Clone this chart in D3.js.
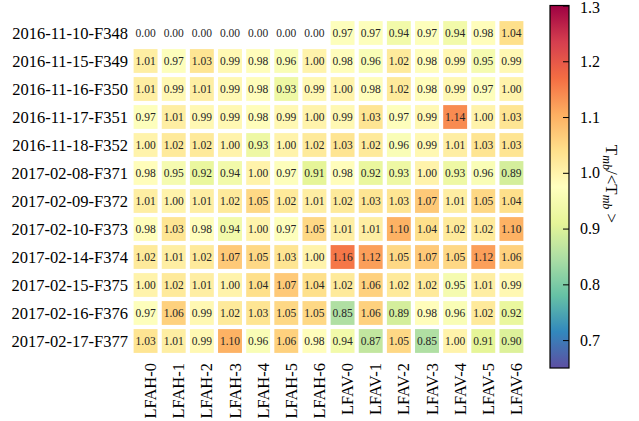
<!DOCTYPE html>
<html>
<head>
<meta charset="utf-8">
<script src="https://cdn.jsdelivr.net/npm/d3@7"></script>
<style>
  html, body { margin: 0; padding: 0; background: #fff; }
  svg { display: block; }
</style>
</head>
<body>
<svg id="chart" width="639" height="421"></svg>
<script>
const rows = ["2016-11-10-F348","2016-11-15-F349","2016-11-16-F350","2016-11-17-F351","2016-11-18-F352",
  "2017-02-08-F371","2017-02-09-F372","2017-02-10-F373","2017-02-14-F374","2017-02-15-F375",
  "2017-02-16-F376","2017-02-17-F377"];
const cols = ["LFAH-0","LFAH-1","LFAH-2","LFAH-3","LFAH-4","LFAH-5","LFAH-6",
  "LFAV-0","LFAV-1","LFAV-2","LFAV-3","LFAV-4","LFAV-5","LFAV-6"];
// 0.00 = masked (no data)
const values = [
  [0.00,0.00,0.00,0.00,0.00,0.00,0.00,0.97,0.97,0.94,0.97,0.94,0.98,1.04],
  [1.01,0.97,1.03,0.99,0.98,0.96,1.00,0.98,0.96,1.02,0.98,0.99,0.95,0.99],
  [1.01,0.99,1.01,0.99,0.98,0.93,0.99,1.00,0.98,1.02,0.98,0.99,0.97,1.00],
  [0.97,1.01,0.99,0.99,0.98,0.99,1.00,0.99,1.03,0.97,0.99,1.14,1.00,1.03],
  [1.00,1.02,1.02,1.00,0.93,1.00,1.02,1.03,1.02,0.96,0.99,1.01,1.03,1.03],
  [0.98,0.95,0.92,0.94,1.00,0.97,0.91,0.98,0.92,0.93,1.00,0.93,0.96,0.89],
  [1.01,1.00,1.01,1.02,1.05,1.02,1.01,1.02,1.03,1.03,1.07,1.01,1.05,1.04],
  [0.98,1.03,0.98,0.94,1.00,0.97,1.05,1.01,1.01,1.10,1.04,1.02,1.02,1.10],
  [1.02,1.01,1.02,1.07,1.05,1.03,1.00,1.16,1.12,1.05,1.07,1.05,1.12,1.06],
  [1.00,1.02,1.01,1.00,1.04,1.07,1.04,1.02,1.06,1.02,1.02,0.95,1.01,0.99],
  [0.97,1.06,0.99,1.02,1.03,1.05,1.05,0.85,1.06,0.89,0.98,0.96,1.02,0.92],
  [1.03,1.01,0.99,1.10,0.96,1.06,0.98,0.94,0.87,1.05,0.85,1.00,0.91,0.90]
];
const cbTicks = [0.7,0.8,0.9,1.0,1.1,1.2,1.3];
const vmin = 0.65, vmax = 1.3;

const spectral = ["#9e0142","#d53e4f","#f46d43","#fdae61","#fee08b","#ffffbf","#e6f598","#abdda4","#66c2a5","#3288bd","#5e4fa2"];
const cmapR = spectral.slice().reverse();
const cmap = d3.scaleLinear()
  .domain(cmapR.map((c,i)=> vmin + (vmax - vmin) * i / (cmapR.length - 1)))
  .range(cmapR).interpolate(d3.interpolateRgb).clamp(true);

const svg = d3.select("#chart");
const font = "'Liberation Serif', 'DejaVu Serif', serif";

const x = d3.scaleBand().domain(cols).range([131.5, 525.5]).paddingInner(0.15).paddingOuter(0.075);
const y = d3.scaleBand().domain(rows).range([19, 355]).paddingInner(0.15).paddingOuter(0.075);

const cells = [];
values.forEach((r,i)=> r.forEach((v,j)=> cells.push({row: rows[i], col: cols[j], v})));

const g = svg.append("g");
g.selectAll("rect.cell").data(cells).join("rect")
  .attr("class","cell")
  .attr("x", d=> x(d.col)).attr("y", d=> y(d.row))
  .attr("width", x.bandwidth()).attr("height", y.bandwidth())
  .attr("fill", d=> d.v === 0 ? "#ffffff" : cmap(d.v));

g.selectAll("text.val").data(cells).join("text")
  .attr("class","val")
  .attr("x", d=> x(d.col) + x.bandwidth()/2)
  .attr("y", d=> y(d.row) + y.bandwidth()/2)
  .attr("text-anchor","middle").attr("dominant-baseline","central")
  .attr("font-family", font).attr("font-size", 11.5).attr("fill","#262626")
  .text(d=> d.v.toFixed(2));

// row labels
svg.append("g").selectAll("text").data(rows).join("text")
  .attr("x", 128).attr("y", d=> y(d) + y.bandwidth()/2)
  .attr("text-anchor","end").attr("dominant-baseline","central")
  .attr("font-family", font).attr("font-size", 16.5).attr("fill","#000")
  .text(d=> d);

// column labels (rotated)
svg.append("g").selectAll("text").data(cols).join("text")
  .attr("transform", d=> `translate(${x(d) + x.bandwidth()/2 + 5},363) rotate(-90)`)
  .attr("text-anchor","end").attr("dominant-baseline","central")
  .attr("font-family", font).attr("font-size", 16.5).attr("fill","#000")
  .text(d=> d);

// colorbar
const cbX = 550, cbW = 19, cbTop = 5.5, cbBot = 368;
const cy = d3.scaleLinear().domain([vmin, vmax]).range([cbBot, cbTop]);
const defs = svg.append("defs");
const grad = defs.append("linearGradient").attr("id","cbgrad")
  .attr("x1","0").attr("y1","1").attr("x2","0").attr("y2","0");
d3.range(0, 1.0001, 0.02).forEach(t=> {
  grad.append("stop").attr("offset", t).attr("stop-color", cmap(vmin + t*(vmax-vmin)));
});
svg.append("rect").attr("x", cbX).attr("y", cbTop).attr("width", cbW).attr("height", cbBot - cbTop)
  .attr("fill","url(#cbgrad)");
svg.append("rect").attr("x", cbX).attr("y", cbTop).attr("width", cbW).attr("height", cbBot - cbTop)
  .attr("fill","none").attr("stroke","#000").attr("stroke-width",1.2);

const cbAxis = d3.axisRight(cy).tickValues(cbTicks).tickFormat(d3.format(".1f")).tickSizeInner(-6).tickSizeOuter(0).tickPadding(11);
const ag = svg.append("g").attr("transform", `translate(${cbX + cbW},0)`).call(cbAxis);
ag.select(".domain").remove();
ag.selectAll(".tick line").attr("stroke","#000").attr("stroke-width",1);
ag.selectAll(".tick text").attr("font-family", font).attr("font-size", 16).attr("fill","#000");
ag.selectAll(".tick").filter(d=> d === 1.3).select("text").attr("dy","0.45em");

// colorbar label
const lab = svg.append("text")
  .attr("transform","translate(606,184) rotate(90)")
  .attr("text-anchor","middle")
  .attr("font-family", font).attr("font-size", 17).attr("fill","#000");
lab.append("tspan").text("T");
lab.append("tspan").attr("font-style","italic").attr("font-size",12).attr("dy",3).text("mb");
lab.append("tspan").attr("dy",-3).text("/<T");
lab.append("tspan").attr("font-style","italic").attr("font-size",12).attr("dy",3).text("mb");
lab.append("tspan").attr("dy",-3).text(" >");
</script>
</body>
</html>
